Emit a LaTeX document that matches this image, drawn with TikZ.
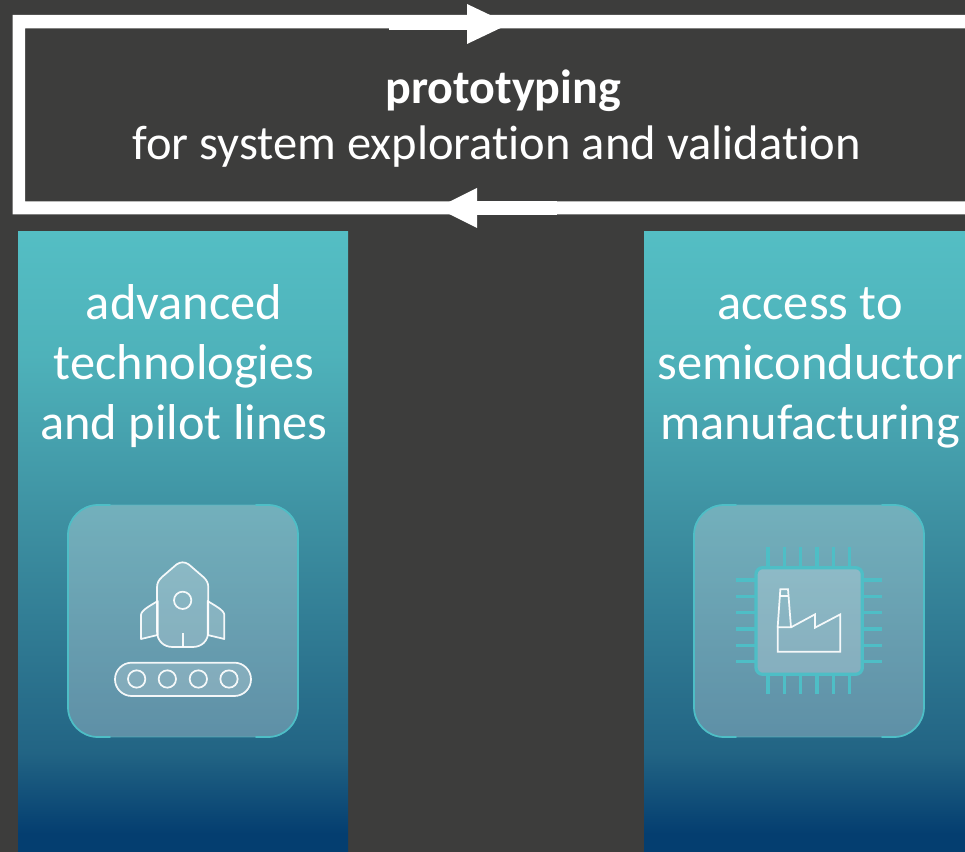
\documentclass[tikz,border=0pt]{standalone}
\usepackage{fontspec}
\setmainfont{Carlito}[Ligatures=NoCommon]
\usetikzlibrary{calc}
\definecolor{bgdark}{RGB}{61,61,60}
\definecolor{tealline}{RGB}{78,190,198}
\definecolor{coltop}{RGB}{84,190,196}
\definecolor{colmidA}{RGB}{78,178,186}
\definecolor{colmidB}{RGB}{62,145,162}
\definecolor{colmidC}{RGB}{34,100,132}
\definecolor{colbot}{RGB}{4,62,112}
\pgfdeclareverticalshading{colgrad}{100bp}{
  color(0bp)=(colbot); color(26.5bp)=(colbot); color(33bp)=(colmidC);
  color(52bp)=(colmidB); color(65bp)=(colmidA); color(75bp)=(coltop); color(100bp)=(coltop)}
\tikzset{
  px/.style={x=.75pt,y=-.75pt},
  column/.style={shading=colgrad,draw=none},
  label/.style={text=white,font=\fontsize{37.8pt}{42pt}\selectfont,anchor=base,inner sep=0pt},
  titlelabel/.style={label,font=\fontsize{36.4pt}{42pt}\selectfont},
  card/.style={fill=white,fill opacity=.27,draw=tealline,draw opacity=.35,line width=.9pt,rounded corners=22.5pt},
  cornerline/.style={draw=tealline,line width=1.3pt,line cap=round},
  icon/.style={draw=white,line width=1.3pt,line join=round,fill=white,fill opacity=.2,draw opacity=.92},
  iconbare/.style={draw=white,line width=1.3pt,draw opacity=.92},
  pin/.style={draw=tealline,line width=2.3pt},
  zoomed/.style={x=.25pt,y=-.25pt},
  framefill/.style={fill=white,draw=none},
}
\newcommand{\cardcorners}[4]{% left top right bottom
  \draw[cornerline] (#1+42,#2) -- (#1+30,#2) arc[start angle=90,end angle=180,radius=22.5pt] -- (#1,#4-30) arc[start angle=180,end angle=270,radius=22.5pt] -- (#1+42,#4);
  \draw[cornerline] (#3-42,#2) -- (#3-30,#2) arc[start angle=90,end angle=0,radius=22.5pt] -- (#3,#4-30) arc[start angle=0,end angle=-90,radius=22.5pt] -- (#3-42,#4);
}
\begin{document}
\begin{tikzpicture}[px]
\useasboundingbox (0,0) rectangle (965,852);
\fill[bgdark] (0,0) rectangle (965,852);
% frame with its two arrows
\fill[framefill] (965,15) -- (12.5,15) -- (12.5,214.5) -- (965,214.5) -- (965,201.5) -- (25,201.5) -- (25,28.5) -- (965,28.5) -- cycle;
\fill[framefill] (389,25) rectangle (480,30.5);
\fill[framefill] (467,4) -- (509,24) -- (467,44) -- cycle;
\fill[framefill] (470,201) rectangle (557,215);
\fill[framefill] (477,188) -- (437,208) -- (477,228) -- cycle;
% title
\node[label] (title) at (503,104) {\fontsize{36pt}{42pt}\selectfont\bfseries prototyping};
\node[titlelabel] (subtitle) at (496.5,160) {for system exploration and validation};
% columns
\path[column] (18,231.5) rectangle (348,852);
\path[column] (644,231.5) rectangle (965,852);
\node[label] (a1) at (184,320) {advanced};
\node[label] (a2) at (184,380) {technologies};
\node[label] (a3) at (184,440) {and pilot lines};
\node[label] (b1) at (810,320) {access to};
\node[label] (b2) at (810,380) {semiconductor};
\node[label] (b3) at (810,440) {manufacturing};
% cards
\path[card] (68,505) rectangle (298,737);
\cardcorners{68}{505}{298}{737}
\path[card] (694,505) rectangle (924,737);
\cardcorners{694}{505}{924}{737}
% rocket
\begin{scope}[shift={(60,495)},zoomed]
  \path[icon] (243,360) .. controls (243,345) and (275,330) .. (293,318) -- (293,420) -- (243,432) -- cycle;
  \path[icon] (493,360) .. controls (493,345) and (461,330) .. (443,318) -- (443,420) -- (493,432) -- cycle;
  \path[icon] (350,208) .. controls (362,200) and (374,200) .. (386,208)
     -- (430,246) .. controls (440,255) and (445,264) .. (445,278) -- (445,408)
     .. controls (445,438) and (425,456) .. (398,456) -- (338,456)
     .. controls (311,456) and (291,438) .. (291,408) -- (291,278)
     .. controls (291,264) and (296,255) .. (306,246) -- cycle;
  \path[iconbare] (368,316) circle[radius=6.5pt];
  \path[iconbare] (368,415) -- (368,456);
  \path[icon] (215,503) -- (523,503) arc[start angle=90,end angle=-90,radius=12.5pt] -- (215,603) arc[start angle=270,end angle=90,radius=12.5pt] -- cycle;
  \foreach \cx in {230,322,415,507} \path[iconbare] (\cx,552) circle[radius=6.5pt];
\end{scope}
% chip with factory
\begin{scope}[shift={(685,495)},zoomed]
  \foreach \p in {249,298,347,396,445,494} {
    \path[pin] (\p,157) -- (\p,215);
    \path[pin] (\p,540) -- (\p,598);
  }
  \foreach \p in {255,304,353,402,451,500} {
    \path[pin] (153,\p) -- (210,\p);
    \path[pin] (535,\p) -- (590,\p);
  }
  \path[fill=white,fill opacity=.22,draw=tealline,line width=2.4pt,rounded corners=5pt] (213,218) rectangle (532,538);
  \path[iconbare,line join=miter] (278,470) -- (466,470) -- (466,358) -- (390,398) -- (390,358) -- (318,397) -- (278,397) -- cycle;
  \path[iconbare,line join=miter] (278,397) -- (286,283) -- (309,283) -- (318,397);
  \path[iconbare] (286,302) -- (310,302);
\end{scope}
\end{tikzpicture}
\end{document}
